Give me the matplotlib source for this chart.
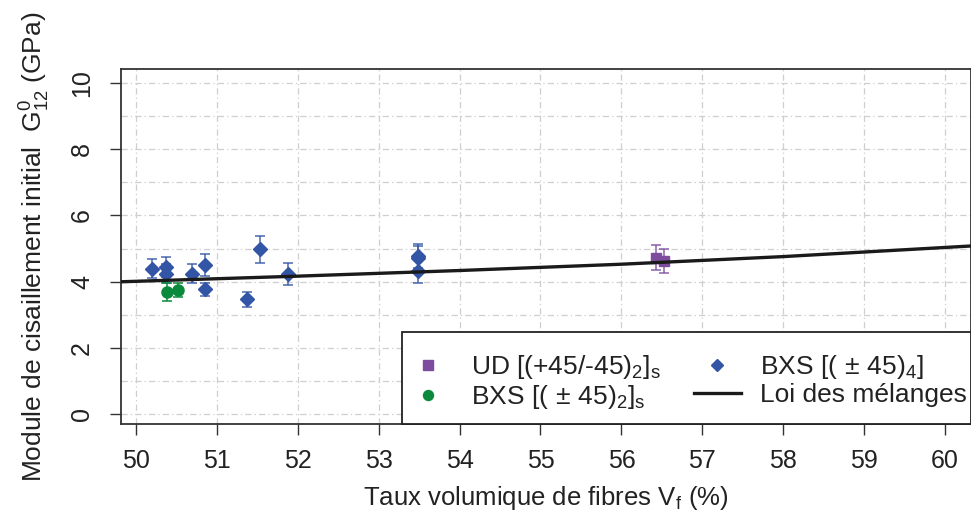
import matplotlib
matplotlib.use("Agg")
import matplotlib.pyplot as plt
from matplotlib.patches import Rectangle

plt.rcParams['font.family'] = ['Liberation Sans', 'DejaVu Sans']
plt.rcParams['mathtext.fontset'] = 'custom'
plt.rcParams['mathtext.rm'] = 'Liberation Sans'
plt.rcParams['mathtext.it'] = 'Liberation Sans:italic'
plt.rcParams['mathtext.bf'] = 'Liberation Sans:bold'

# BXS [(+-45)4] : fibre volume fraction (%), G12 (GPa), error
bxs4_vf = [50.20, 50.37, 50.37, 50.69, 50.85, 50.85, 51.37, 51.54, 51.88, 53.49, 53.49, 53.49]
bxs4_g = [4.40, 4.45, 4.25, 4.25, 4.50, 3.77, 3.47, 4.98, 4.23, 4.79, 4.71, 4.33]
bxs4_err = [0.30, 0.30, 0.30, 0.29, 0.33, 0.20, 0.23, 0.40, 0.34, 0.36, 0.36, 0.36]

# BXS [(+-45)2]s
bxs2_vf = [50.38, 50.52]
bxs2_g = [3.70, 3.75]
bxs2_err = [0.27, 0.22]

# UD [(+45/-45)2]s
ud_vf = [56.43, 56.53]
ud_g = [4.73, 4.63]
ud_err = [0.38, 0.35]

# rule of mixtures curve
rdm_vf = [49.81, 52.0, 54.0, 56.0, 58.0, 60.32]
rdm_g = [4.00, 4.17, 4.34, 4.53, 4.76, 5.08]

blue = '#3355A5'
green = '#0B8A3C'
purple = '#7D4C9E'
txt = '#222222'

fig = plt.figure(figsize=(9.71, 5.14), dpi=100)
ax = fig.add_axes([120.5 / 971, 1 - 424 / 514, (971 - 120.5) / 971, (424 - 69.3) / 514])

ax.set_xlim(49.81, 60.32)
ax.set_ylim(-0.29, 10.41)

ax.set_xticks(range(50, 61))
ax.set_yticks(range(0, 11), minor=True)
ax.set_yticks([0, 2, 4, 6, 8, 10])
ax.grid(True, which='both', color='#CFCFCF', linestyle=(0, (5, 2.5, 1, 2.5)), linewidth=0.9)
ax.set_axisbelow(True)

# error bars first, then markers on top
ax.errorbar(bxs4_vf, bxs4_g, yerr=bxs4_err, fmt='none', ecolor=blue, alpha=0.75,
            elinewidth=1.3, capsize=3.4, capthick=1.3, zorder=3)
ax.errorbar(bxs2_vf, bxs2_g, yerr=bxs2_err, fmt='none', ecolor=green, alpha=0.85,
            elinewidth=1.3, capsize=3.4, capthick=1.3, zorder=3)
ax.errorbar(ud_vf, ud_g, yerr=ud_err, fmt='none', ecolor=purple, alpha=0.75,
            elinewidth=1.3, capsize=3.6, capthick=1.3, zorder=3)

l_ud, = ax.plot(ud_vf, ud_g, 's', color=purple, markersize=7.5, zorder=4,
                label=r'UD [(+45/-45)$_2$]$_\mathrm{s}$')
l_bxs2, = ax.plot(bxs2_vf, bxs2_g, 'o', color=green, markersize=8, zorder=4,
                  label=r'BXS [($\,\pm\,$45)$_2$]$_\mathrm{s}$')
l_bxs4, = ax.plot(bxs4_vf, bxs4_g, 'D', color=blue, markersize=7, zorder=4,
                  label=r'BXS [($\,\pm\,$45)$_4$]')
l_rdm, = ax.plot(rdm_vf, rdm_g, '-', color='#1a1a1a', linewidth=2.4, zorder=5,
                 label='Loi des mélanges')

for s in ax.spines.values():
    s.set_color('#333333')
    s.set_linewidth(1.3)

ax.tick_params(axis='both', which='major', direction='out', length=8, width=1.0,
               color='#333333', labelsize=18, labelcolor=txt)
ax.tick_params(axis='x', pad=10)
ax.tick_params(axis='y', pad=11)
ax.tick_params(axis='both', which='minor', length=0)
plt.setp(ax.get_yticklabels(), rotation=90, va='center')

ax.set_xlabel(r'Taux volumique de fibres V$_\mathrm{f}$ (%)', fontsize=18.5, color=txt, labelpad=8)
ax.set_ylabel(r'Module de cisaillement initial  G$^0_{12}$ (GPa)', fontsize=19, color=txt, labelpad=13)

# legend frame drawn by hand, flush with the bottom right corner of the axes
ax.add_patch(Rectangle((0.331, 0.0), 0.669, 0.259, transform=ax.transAxes,
                       facecolor='white', edgecolor='#222222', linewidth=1.3,
                       zorder=6, clip_on=False))
leg = ax.legend(handles=[l_ud, l_bxs2, l_bxs4, l_rdm], ncol=2, loc='upper left',
                bbox_to_anchor=(0.334, 0.200), borderaxespad=0, borderpad=0,
                fontsize=19, frameon=False, markerscale=0.9,
                handlelength=1.78, handletextpad=0.72, columnspacing=1.27,
                labelspacing=0.09)
leg.set_zorder(7)
for t in leg.get_texts():
    t.set_color(txt)

fig.savefig('out.png', dpi=100)
